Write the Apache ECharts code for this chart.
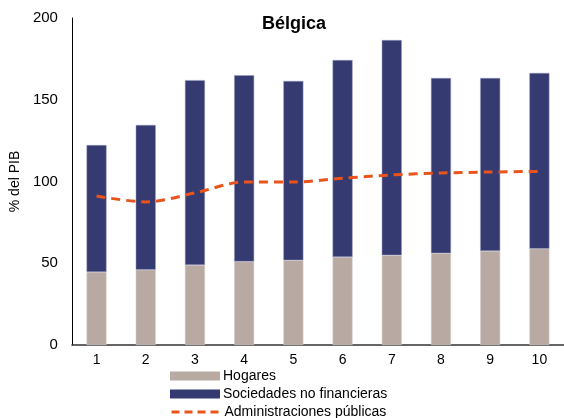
<!DOCTYPE html>
<html>
<head>
<meta charset="utf-8">
<script src="https://cdn.jsdelivr.net/npm/echarts@6/dist/echarts.min.js"></script>
<style>
html, body { margin: 0; padding: 0; background: #fff; }
#chartArea { width: 564px; height: 418px; }
</style>
</head>
<body>
<div id="chartArea"></div>
<script>
let categories = ['1', '2', '3', '4', '5', '6', '7', '8', '9', '10'];
let hogares = [44.6, 46.0, 48.9, 51.0, 51.8, 53.8, 54.9, 56.1, 57.5, 58.9];
let sociedades = [77.7, 88.6, 113.1, 114.0, 109.7, 120.5, 131.6, 107.2, 105.8, 107.5];
let administraciones = [91.1, 87.5, 93.0, 99.7, 99.7, 102.0, 104.0, 105.2, 105.8, 106.2];
let yTicks = [0, 50, 100, 150, 200];

let myChart = echarts.init(document.getElementById('chartArea'));
let font = 'Liberation Sans, Arial, sans-serif';

function legendRow(name, top, extra) {
    let item = Object.assign({ name: name }, extra || {});
    return {
        left: 170,
        top: top,
        padding: 0,
        itemWidth: 50,
        itemHeight: 9,
        textStyle: { fontFamily: font, fontSize: 14, color: '#000', padding: [0, 0, 0, -2] },
        data: [item]
    };
}

let option = {
    animation: false,
    title: {
        text: 'Bélgica',
        left: 289,
        top: 10,
        textAlign: 'center',
        textStyle: { fontFamily: font, fontSize: 18, fontWeight: 'bold', color: '#000' }
    },
    legend: [
        legendRow('Hogares', 369, { icon: 'rect', itemStyle: { borderWidth: 0 } }),
        legendRow('Sociedades no financieras', 387, { icon: 'rect', itemStyle: { borderWidth: 0 } }),
        legendRow('Administraciones públicas', 405, {
            itemStyle: { opacity: 0 },
            lineStyle: { width: 3, type: [8, 5] }
        })
    ],
    grid: {
        left: 71,
        right: 0,
        top: 18,
        bottom: 73
    },
    xAxis: {
        type: 'category',
        data: categories,
        axisLine: { lineStyle: { color: '#333', width: 1.5 } },
        axisTick: { show: false },
        axisLabel: { fontFamily: font, fontSize: 14, color: '#000', margin: 8 }
    },
    yAxis: {
        type: 'value',
        min: yTicks[0],
        max: yTicks[yTicks.length - 1],
        interval: 50,
        name: '% del PIB',
        nameLocation: 'middle',
        nameGap: 46,
        nameTextStyle: { fontFamily: font, fontSize: 14, color: '#000' },
        axisLine: { show: true, lineStyle: { color: '#000', width: 1 } },
        axisTick: { show: false },
        splitLine: { show: false },
        axisLabel: { fontFamily: font, fontSize: 15, color: '#000', margin: 14 }
    },
    series: [
        {
            name: 'Hogares',
            type: 'bar',
            stack: 'total',
            barWidth: 20,
            data: hogares,
            itemStyle: { color: '#b8aaa3', borderColor: '#d8d0cc', borderWidth: 0.5 }
        },
        {
            name: 'Sociedades no financieras',
            type: 'bar',
            stack: 'total',
            barWidth: 20,
            data: sociedades,
            itemStyle: { color: '#353a70', borderColor: '#9a9cc0', borderWidth: 0.5 }
        },
        {
            name: 'Administraciones públicas',
            type: 'line',
            data: administraciones,
            smooth: 0.3,
            symbol: 'none',
            lineStyle: { color: '#e8541c', width: 3, type: [9, 6] },
            itemStyle: { color: '#e8541c' }
        }
    ]
};

myChart.setOption(option, true);
</script>
</body>
</html>
